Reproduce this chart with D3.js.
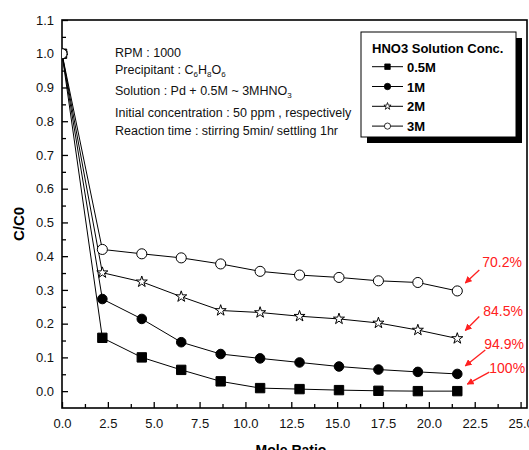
<!DOCTYPE html>
<html>
<head>
<meta charset="utf-8">
<script src="https://cdn.jsdelivr.net/npm/d3@7"></script>
<style>
    body { margin: 0; background: #fff; }
    svg { display: block; }
    text { font-family: "Liberation Sans", Arial, sans-serif; }
</style>
</head>
<body>
<div id="chart"></div>
<script>
// data
const moleRatio = [0, 2.2, 4.35, 6.5, 8.65, 10.8, 12.95, 15.1, 17.25, 19.4, 21.55];
const conc05M = [1.0, 0.158, 0.100, 0.063, 0.029, 0.009, 0.006, 0.003, 0.001, 0.000, 0.000];
const conc1M  = [1.0, 0.273, 0.214, 0.145, 0.110, 0.097, 0.085, 0.073, 0.064, 0.057, 0.051];
const conc2M  = [1.0, 0.351, 0.324, 0.280, 0.239, 0.233, 0.222, 0.214, 0.202, 0.181, 0.156];
const conc3M  = [1.0, 0.420, 0.407, 0.395, 0.377, 0.355, 0.344, 0.337, 0.327, 0.322, 0.297];
const seriesNames = ["0.5M", "1M", "2M", "3M"];
const removalLabels = ["100%", "94.9%", "84.5%", "70.2%"];
const xTickValues = [0, 2.5, 5, 7.5, 10, 12.5, 15, 17.5, 20, 22.5, 25];
const yTickValues = [0, 0.1, 0.2, 0.3, 0.4, 0.5, 0.6, 0.7, 0.8, 0.9, 1.0, 1.1];

MoleChart = function(_parentElement) {
    this.parentElement = _parentElement;
    this.series = [conc05M, conc1M, conc2M, conc3M].map(function(vals, i) {
        return { name: seriesNames[i], label: removalLabels[i],
                 values: vals.map(function(v, j) { return { x: moleRatio[j], y: v }; }) };
    });
    this.initVis();
};

MoleChart.prototype.initVis = function() {
    let vis = this;

    vis.margin = { left: 62, right: 2, top: 20, bottom: 42 };
    vis.width = 529 - vis.margin.left - vis.margin.right;
    vis.height = 450 - vis.margin.top - vis.margin.bottom;

    vis.svg = d3.select(vis.parentElement)
        .append("svg")
        .attr("width", 529)
        .attr("height", 450);
    vis.g = vis.svg.append("g")
        .attr("transform", `translate(${vis.margin.left},${vis.margin.top})`);

    // Scales
    vis.x = d3.scaleLinear().domain([0, 25.35]).range([0, vis.width]);
    vis.y = d3.scaleLinear().domain([-0.05, 1.1]).range([vis.height, 0]);

    // marker shapes: square, filled circle, open star, open circle
    vis.shapes = [
        { type: d3.symbolSquare, size: 88, fill: "#000" },
        { type: d3.symbolCircle, size: 72, fill: "#000" },
        { type: d3.symbolStar, size: 38, fill: "#fff" },
        { type: d3.symbolCircle, size: 80, fill: "#fff" }
    ];
    vis.legendShapes = [
        { type: d3.symbolSquare, size: 30, fill: "#000" },
        { type: d3.symbolCircle, size: 32, fill: "#000" },
        { type: d3.symbolStar, size: 16, fill: "#fff" },
        { type: d3.symbolCircle, size: 30, fill: "#fff" }
    ];

    // Axes (ticks point inward)
    let fmt = d3.format(".1f");
    vis.g.append("g")
        .attr("transform", `translate(0,${vis.height})`)
        .call(d3.axisBottom(vis.x).tickValues(xTickValues).tickFormat(fmt)
            .tickSizeInner(-6).tickSizeOuter(0).tickPadding(11))
        .call(function(g) {
            g.select(".domain").remove();
            g.selectAll("text").attr("font-size", 13).attr("fill", "#111")
                .style("font-family", "'Liberation Sans', Arial, sans-serif");
            g.selectAll("line").attr("stroke-width", 1.3);
        });
    vis.g.append("g")
        .attr("transform", `translate(0,${vis.height})`)
        .call(d3.axisBottom(vis.x).tickValues(xTickValues.slice(0, -1).map(function(d) { return d + 1.25; }))
            .tickFormat("").tickSizeInner(-4).tickSizeOuter(0))
        .call(function(g) { g.select(".domain").remove(); g.selectAll("line").attr("stroke-width", 1.3); });

    vis.g.append("g")
        .call(d3.axisLeft(vis.y).tickValues(yTickValues).tickFormat(fmt)
            .tickSizeInner(-6).tickSizeOuter(0).tickPadding(8))
        .call(function(g) {
            g.select(".domain").remove();
            g.selectAll("text").attr("font-size", 13).attr("fill", "#111")
                .style("font-family", "'Liberation Sans', Arial, sans-serif");
            g.selectAll("line").attr("stroke-width", 1.3);
        });
    vis.g.append("g")
        .call(d3.axisLeft(vis.y).tickValues(yTickValues.map(function(d) { return d + 0.05; }).slice(0, -1))
            .tickFormat("").tickSizeInner(-4).tickSizeOuter(0))
        .call(function(g) { g.select(".domain").remove(); g.selectAll("line").attr("stroke-width", 1.3); });

    // frame
    vis.g.append("rect")
        .attr("width", vis.width)
        .attr("height", vis.height)
        .attr("fill", "none")
        .attr("stroke", "#000")
        .attr("stroke-width", 1.6);

    // Labels
    vis.g.append("text")
        .attr("x", 229)
        .attr("y", vis.height + 47)
        .attr("font-size", 14)
        .attr("font-weight", "bold")
        .attr("text-anchor", "middle")
        .text("Mole Ratio");
    vis.g.append("text")
        .attr("transform", "rotate(-90)")
        .attr("x", -204)
        .attr("y", -38)
        .attr("font-size", 15)
        .attr("font-weight", "bold")
        .attr("text-anchor", "middle")
        .text("C/C0");

    // condition notes
    let notes = vis.svg.append("g").attr("font-size", 12.5).attr("fill", "#111");
    notes.append("text").attr("x", 115).attr("y", 57).text("RPM : 1000");
    let p = notes.append("text").attr("x", 115).attr("y", 74);
    p.append("tspan").text("Precipitant : C");
    [["6", "H"], ["8", "O"], ["6", ""]].forEach(function(s) {
        p.append("tspan").attr("dy", 3).attr("font-size", 8).text(s[0]);
        p.append("tspan").attr("dy", -3).text(s[1]);
    });
    let s = notes.append("text").attr("x", 115).attr("y", 95);
    s.append("tspan").text("Solution : Pd + 0.5M ~ 3MHNO");
    s.append("tspan").attr("dy", 3).attr("font-size", 8).text("3");
    notes.append("text").attr("x", 115).attr("y", 117).text("Initial concentration : 50 ppm , respectively");
    notes.append("text").attr("x", 115).attr("y", 135).text("Reaction time : stirring 5min/ settling 1hr");

    // clipped plot layer
    vis.svg.append("clipPath").attr("id", "plotClip")
        .append("rect").attr("width", vis.width).attr("height", vis.height);
    vis.plot = vis.g.append("g").attr("clip-path", "url(#plotClip)");

    vis.line = d3.line()
        .x(function(d) { return vis.x(d.x); })
        .y(function(d) { return vis.y(d.y); });

    vis.plot.selectAll(".series-line")
        .data(vis.series)
        .enter().append("path")
        .attr("class", "series-line")
        .attr("d", function(d) { return vis.line(d.values); })
        .attr("fill", "none")
        .attr("stroke", "#000")
        .attr("stroke-width", 1);

    vis.series.forEach(function(ser, i) {
        let sh = vis.shapes[i];
        vis.plot.selectAll(".pt" + i)
            .data(ser.values)
            .enter().append("path")
            .attr("class", "pt" + i)
            .attr("transform", function(d) { return `translate(${vis.x(d.x)},${vis.y(d.y)})`; })
            .attr("d", d3.symbol().type(sh.type).size(sh.size))
            .attr("fill", sh.fill)
            .attr("stroke", "#000")
            .attr("stroke-width", 1);
    });

    // removal annotations (offsets from each series' last point)
    let annot = [
        { tip: [10, -7], tail: [32, -19], text: [32, -18] },
        { tip: [8, -8], tail: [28, -24], text: [27, -25] },
        { tip: [8, -8], tail: [22, -22], text: [26, -22] },
        { tip: [8, -8], tail: [22, -21], text: [25, -24] }
    ];
    vis.svg.append("defs").append("marker")
        .attr("id", "redArrow")
        .attr("viewBox", "0 0 10 10")
        .attr("refX", 9).attr("refY", 5)
        .attr("markerWidth", 7).attr("markerHeight", 7)
        .attr("markerUnits", "userSpaceOnUse")
        .attr("orient", "auto")
        .append("path").attr("d", "M0,0L10,5L0,10z").attr("fill", "#ff2020");

    vis.series.forEach(function(ser, i) {
        let last = ser.values[ser.values.length - 1];
        let px = vis.x(last.x), py = vis.y(last.y);
        let a = annot[i];
        vis.g.append("line")
            .attr("x1", px + a.tail[0]).attr("y1", py + a.tail[1])
            .attr("x2", px + a.tip[0]).attr("y2", py + a.tip[1])
            .attr("stroke", "#ff2020")
            .attr("stroke-width", 1.3)
            .attr("marker-end", "url(#redArrow)");
        vis.g.append("text")
            .attr("x", px + a.text[0])
            .attr("y", py + a.text[1])
            .attr("font-size", 14)
            .attr("fill", "#ff2020")
            .text(ser.label);
    });

    // Legend
    let lg = vis.svg.append("g").attr("transform", "translate(361,32)");
    lg.append("rect").attr("x", 6).attr("y", 6).attr("width", 155).attr("height", 105).attr("fill", "#000");
    lg.append("rect").attr("width", 155).attr("height", 105)
        .attr("fill", "#fff").attr("stroke", "#000").attr("stroke-width", 1);
    lg.append("text").attr("x", 11).attr("y", 21)
        .attr("font-size", 13).attr("font-weight", "bold").text("HNO3 Solution Conc.");
    vis.series.forEach(function(ser, i) {
        let yy = 34.7 + i * 19.8;
        let row = lg.append("g").attr("transform", `translate(0,${yy})`);
        row.append("line").attr("x1", 11).attr("x2", 42).attr("stroke", "#000").attr("stroke-width", 1);
        let sh = vis.legendShapes[i];
        row.append("path")
            .attr("transform", "translate(26.5,0)")
            .attr("d", d3.symbol().type(sh.type).size(sh.size))
            .attr("fill", sh.fill).attr("stroke", "#000").attr("stroke-width", 0.8);
        row.append("text").attr("x", 46).attr("y", 5)
            .attr("font-size", 13).attr("font-weight", "bold").text(ser.name);
    });
};

new MoleChart("#chart");
</script>
</body>
</html>
